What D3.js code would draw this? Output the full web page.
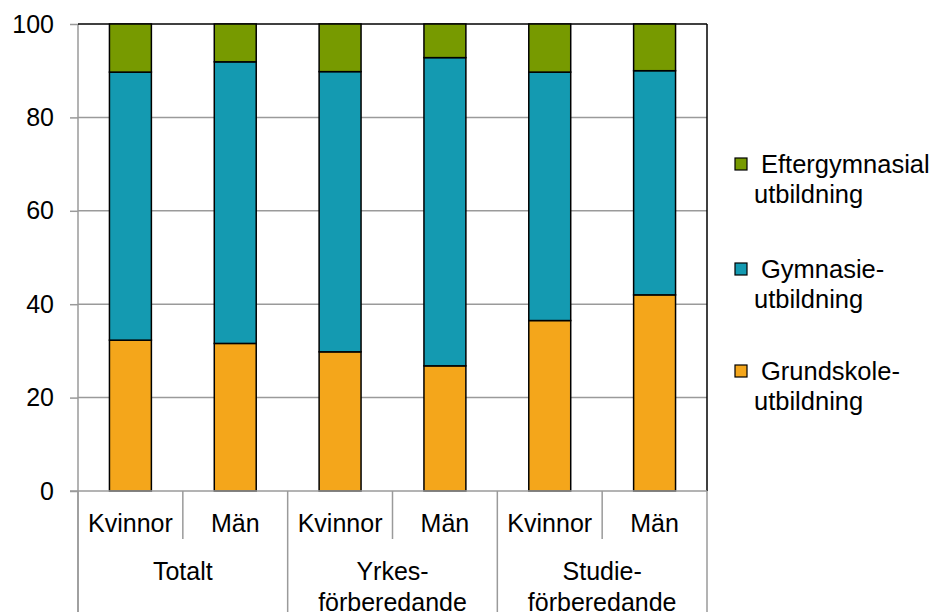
<!DOCTYPE html>
<meta charset="utf-8">
<head>
<script src="https://d3js.org/d3.v7.min.js"></script>
<style>
  body { margin: 0; background: #fff; }
  text { font-family: "Liberation Sans", Arial, sans-serif; fill: #000; }
</style>
</head>
<body>
<div id="container"></div>
<script>

// data
var groups = ["Totalt", "Yrkes-\nförberedande", "Studie-\nförberedande"];
var genders = ["Kvinnor", "Män"];
var grundskole = [32.3, 31.6, 29.8, 26.8, 36.5, 42.0];
var gymnasie   = [57.4, 60.3, 60.0, 66.0, 53.2, 48.0];
var efter      = [10.3, 8.1, 10.2, 7.2, 10.3, 10.0];
var seriesNames = ["Eftergymnasial\nutbildning", "Gymnasie-\nutbildning", "Grundskole-\nutbildning"];
var seriesColors = ["#779a00", "#149ab1", "#f4a61b"];
var yTicks = [0, 20, 40, 60, 80, 100];

var width = 939, height = 612;
var mLeft = 78, mRight = 707, mTop = 24, mBottom = 491;
var fontSize = 25;

var svg = d3.select('#container').append('svg')
  .attr('width', width).attr('height', height);

var cats = [];
groups.forEach(function(g, gi) {
  genders.forEach(function(s) { cats.push(gi + "|" + s); });
});

var x = d3.scaleBand().domain(cats).range([mLeft, mRight]).paddingInner(0.6).paddingOuter(0.3);
var y = d3.scaleLinear().domain([0, 100]).range([mBottom, mTop]);

// grid
svg.selectAll('.grid').data(yTicks.slice(1, 5)).enter().append('line')
  .attr('x1', mLeft).attr('x2', mRight)
  .attr('y1', d => y(d)).attr('y2', d => y(d))
  .attr('stroke', '#9a9a9a').attr('stroke-width', 1.5);

// y axis
var yAxis = svg.append('g').attr('transform', 'translate(' + mLeft + ',0)')
  .call(d3.axisLeft(y).tickValues(yTicks).tickSize(8).tickPadding(16));
yAxis.select('.domain').remove();
yAxis.selectAll('line').attr('stroke', '#9a9a9a').attr('stroke-width', 1.5);
yAxis.selectAll('text').attr('font-size', fontSize).attr('fill', '#000')
  .attr('font-family', '"Liberation Sans", Arial, sans-serif');

svg.append('line').attr('x1', mLeft).attr('x2', mLeft).attr('y1', mTop).attr('y2', height)
  .attr('stroke', '#9a9a9a').attr('stroke-width', 1.5);

// frame top/right
svg.append('line').attr('x1', mLeft).attr('x2', mRight).attr('y1', mTop).attr('y2', mTop)
  .attr('stroke', '#000').attr('stroke-width', 1.5);
svg.append('line').attr('x1', mRight).attr('x2', mRight).attr('y1', mTop).attr('y2', mBottom)
  .attr('stroke', '#000').attr('stroke-width', 1.5);

// stacks
var table = cats.map(function(c, i) {
  return { cat: c, grund: grundskole[i], gym: gymnasie[i], efter: efter[i] };
});
var stack = d3.stack().keys(["grund", "gym", "efter"])(table);
var colorOf = { grund: seriesColors[2], gym: seriesColors[1], efter: seriesColors[0] };

stack.forEach(function(layer) {
  svg.append('g').selectAll('rect').data(layer).enter().append('rect')
    .attr('x', d => x(d.data.cat))
    .attr('width', x.bandwidth())
    .attr('y', d => y(d[1]))
    .attr('height', d => y(d[0]) - y(d[1]))
    .attr('fill', colorOf[layer.key])
    .attr('stroke', '#000').attr('stroke-width', 1.5);
});

// x axis
svg.append('line').attr('x1', mLeft - 8).attr('x2', mRight).attr('y1', mBottom).attr('y2', mBottom)
  .attr('stroke', '#9a9a9a').attr('stroke-width', 1.5);

var step = (mRight - mLeft) / cats.length;
cats.forEach(function(c, i) {
  var cx = mLeft + step * (i + 0.5);
  svg.append('text').attr('x', cx).attr('y', 532).attr('text-anchor', 'middle')
    .attr('font-size', fontSize).text(c.split("|")[1]);
  if (i % 2 == 1) {
    var sx = mLeft + step * i;
    svg.append('line').attr('x1', sx).attr('x2', sx).attr('y1', mBottom).attr('y2', 539)
      .attr('stroke', '#9a9a9a').attr('stroke-width', 1.5);
  }
});
for (var k = 0; k <= groups.length; k++) {
  var gx = mLeft + step * 2 * k;
  svg.append('line').attr('x1', gx).attr('x2', gx).attr('y1', mBottom).attr('y2', height)
    .attr('stroke', '#9a9a9a').attr('stroke-width', 1.5);
}
groups.forEach(function(g, gi) {
  var cx = mLeft + step * (2 * gi + 1);
  var lines = g.split("\n");
  var t = svg.append('text').attr('text-anchor', 'middle').attr('font-size', fontSize);
  lines.forEach(function(l, li) {
    t.append('tspan').attr('x', cx).attr('y', 580 + li * 31).text(l);
  });
});

// legend
var legY = [165, 270, 372];
seriesNames.forEach(function(name, i) {
  var g = svg.append('g');
  g.append('rect').attr('x', 735).attr('y', legY[i] - 7).attr('width', 12).attr('height', 12)
    .attr('fill', seriesColors[i]).attr('stroke', '#000').attr('stroke-width', 1.2);
  var lines = name.split("\n");
  var t = g.append('text').attr('font-size', 25.5);
  t.append('tspan').attr('x', 761).attr('y', legY[i] + 8).text(lines[0]);
  t.append('tspan').attr('x', 754).attr('y', legY[i] + 38).text(lines[1]);
});

</script>
</body>
